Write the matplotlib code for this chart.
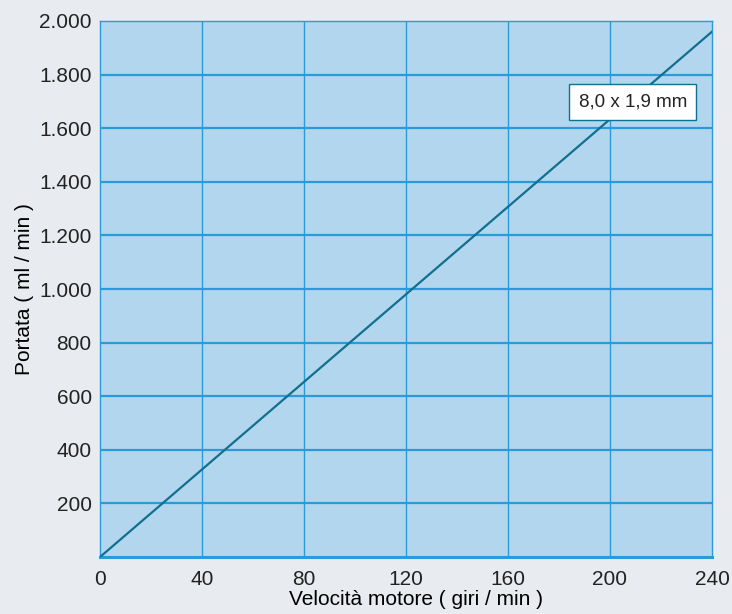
import matplotlib
matplotlib.use("Agg")
import matplotlib.pyplot as plt
import numpy as np

# portata vs velocità motore, tubo 8,0 x 1,9 mm
velocita = np.array([0, 240])          # giri / min
portata = np.array([0, 1960])          # ml / min
x_ticks = [0, 40, 80, 120, 160, 200, 240]
y_ticks = [200, 400, 600, 800, 1000, 1200, 1400, 1600, 1800, 2000]
etichetta_tubo = "8,0 x 1,9 mm"

BG = "#e8ebf0"
AREA = "#b3d6ef"
GRID = "#2a9ad8"
LINEA = "#10708f"

plt.rcParams["font.family"] = ["Liberation Sans", "DejaVu Sans"]

fig = plt.figure(figsize=(7.32, 6.14), dpi=100, facecolor=BG)
ax = fig.add_axes([0.1366, 0.0928, 0.836, 0.873])
ax.set_facecolor(AREA)

ax.set_xlim(0, 240)
ax.set_ylim(0, 2000)
ax.set_xticks(x_ticks)
ax.set_yticks(y_ticks)
ax.set_yticklabels([f"{v:,}".replace(",", ".") for v in y_ticks])
ax.tick_params(length=0, labelsize=15, colors="#222222")
ax.tick_params(axis="x", pad=9)
ax.tick_params(axis="y", pad=6)

# griglia: orizzontali più spesse delle verticali
for v in x_ticks[1:-1]:
    ax.axvline(v, color=GRID, lw=1.0, zorder=1)
for v in y_ticks[:-1]:
    ax.axhline(v, color=GRID, lw=1.6, zorder=1)

for side, sp in ax.spines.items():
    sp.set_color(GRID)
    sp.set_linewidth(1.0)
ax.spines["bottom"].set_linewidth(2.2)

ax.plot(velocita, portata, color=LINEA, lw=1.6, zorder=3)

ax.text(209, 1697, etichetta_tubo, fontsize=13.5, color="#222222",
        ha="center", va="center", zorder=4,
        bbox=dict(boxstyle="square,pad=0.5", fc="white", ec=LINEA, lw=1.0))

ax.set_xlabel("Velocità motore ( giri / min )", fontsize=15, labelpad=0)
ax.xaxis.set_label_coords(0.516, -0.062)
ax.set_ylabel("Portata ( ml / min )", fontsize=15)
ax.yaxis.set_label_coords(-0.108, 0.5)

fig.savefig("out.png", dpi=100, facecolor=BG)
